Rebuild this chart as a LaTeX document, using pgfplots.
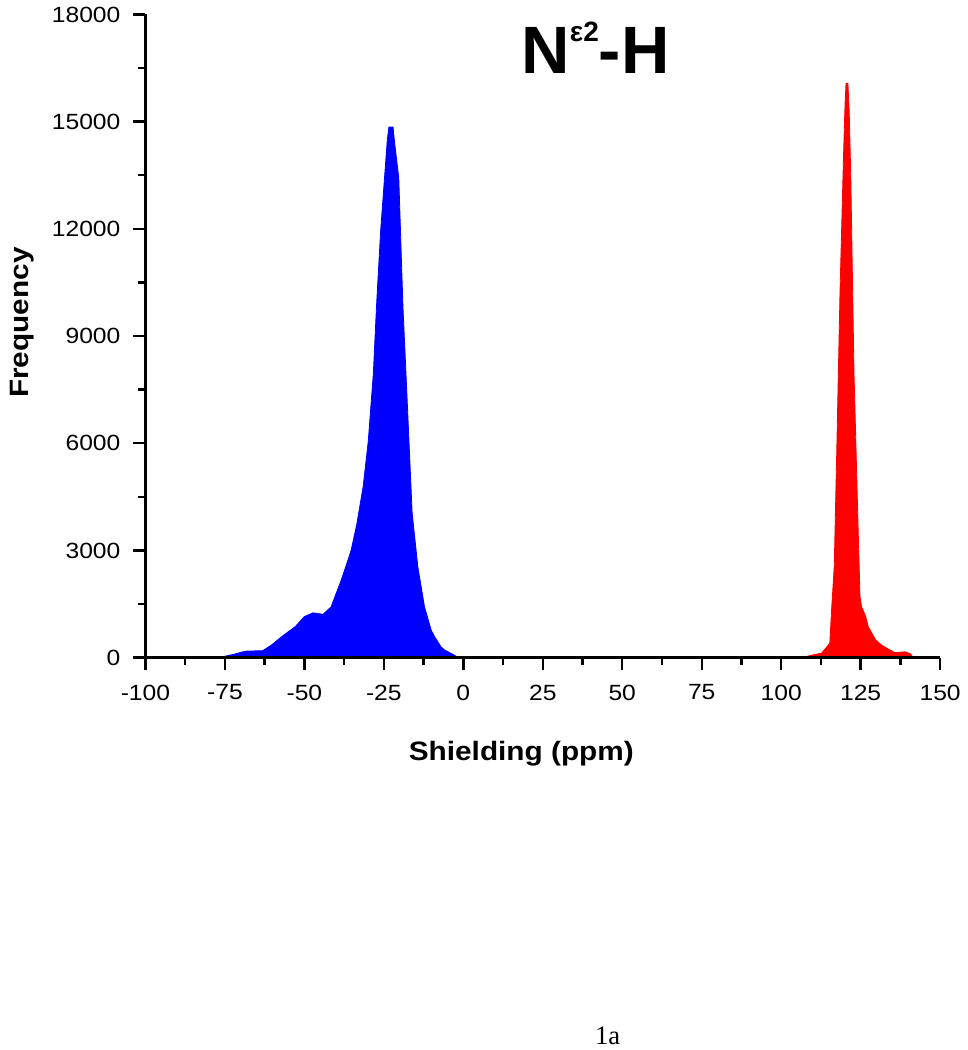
\documentclass[border=0pt]{standalone}
\usepackage{pgfplots}
\pgfplotsset{compat=1.18}
\usepackage{fontspec}
\setmainfont{Liberation Sans}
\newfontfamily\widesf[FakeStretch=1.12]{Liberation Sans}
\newfontfamily\serif{Liberation Serif}

\begin{document}
\begin{tikzpicture}
% frame of the whole picture (1px = 0.5pt)
\path (-72.75pt,-196.25pt) rectangle (410.25pt,328.75pt);
\begin{axis}[
  at={(0,0)}, anchor=south west,
  scale only axis, width=397.5pt, height=321.75pt,
  xmin=-100, xmax=150, ymin=0, ymax=18000,
  axis x line=bottom, axis y line=left,
  axis line style={-, line width=1.2pt},
  axis on top,
  xtick={-100,-75,...,150}, ytick={0,3000,...,18000},
  scaled y ticks=false,
  minor x tick num=1, minor y tick num=1,
  tick align=outside,
  major tick length=6pt, minor tick length=3.5pt,
  tick style={black, line width=1.2pt},
  /pgf/number format/assume math mode=true,
  /pgf/number format/1000 sep={},
  ticklabel style={font=\widesf\fontsize{11}{12}\selectfont},
  xticklabel style={yshift=-4pt},
  yticklabel style={xshift=-3pt},
  xlabel={Shielding (ppm)}, ylabel={Frequency},
  label style={font=\widesf\bfseries\fontsize{13.3}{15}\selectfont},
  xlabel style={at={(axis description cs:0.473,-0.15)}, anchor=center},
  ylabel style={at={(axis description cs:-0.155,0.521)}, anchor=center},
]
\addplot[fill=blue, draw=blue, line width=0.4pt] coordinates {
(-78.3,0)(-75,40)(-72,98)(-70,150)(-68.3,182)(-63.1,196)(-60.4,350)
(-57.2,583)(-52.8,874)(-50,1150)(-47.3,1254)(-44.1,1213)(-41.6,1422)
(-38.4,2170)(-35.3,3000)(-33.5,3738)(-31.5,4791)(-29.9,6055)(-28.3,7950)
(-27.3,9846)(-26,11952)(-24.7,13531)(-23.9,14500)(-23.4,14848)(-22.1,14848)
(-21.6,14400)(-20.3,13425)(-19,9846)(-17.4,6687)(-16.1,4054)(-14.3,2540)
(-12.2,1420)(-10.1,770)(-9,583)(-7,300)(-5.8,210)(-2.8,70)(-2.3,40)(-1,0)
} \closedcycle;
\addplot[fill=red, draw=red, line width=0.4pt] coordinates {
(106.5,0)(109.9,76)(112.7,126)(114.6,327)(115.3,406)(115.9,1400)
(116.7,2560)(117.5,5828)(118.5,10186)(119.6,13999)(120.1,15500)
(120.4,16069)(121,16069)(121.4,15300)(121.9,13454)(122.9,8007)
(124.2,3649)(124.8,1700)(125.3,1422)(126.6,1150)(127.4,862)
(129.7,500)(131.6,350)(133.5,250)(135.8,140)(137,150)(139,163)
(140.6,109)(141.6,0)
} \closedcycle;
\node[anchor=base, font=\bfseries\fontsize{33.5}{36}\selectfont, inner sep=0pt]
  at (axis cs:41.6,16360)
  {N\raisebox{16pt}{\fontsize{14}{15}\selectfont ε2}-H};
\end{axis}
\node[anchor=base, font=\serif\fontsize{13.3}{15}\selectfont, inner sep=0pt]
  at (231.25pt,-193.5pt) {1a};
\end{tikzpicture}
\end{document}
